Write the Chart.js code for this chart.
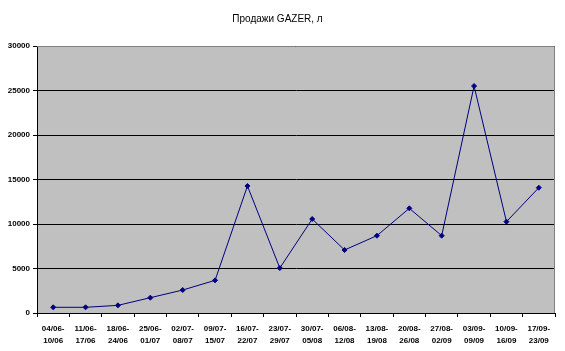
<!DOCTYPE html>
<html>
<head>
<meta charset="utf-8">
<script src="https://cdn.jsdelivr.net/npm/chart.js@4"></script>
<style>
    html, body { margin: 0; padding: 0; background: #fff; }
    #wrap { width: 565px; height: 351px; }
</style>
</head>
<body>
<div id="wrap"><canvas id="salesChart" width="565" height="351"></canvas></div>
<script>
const weeks = [
    ['04/06-', '10/06'], ['11/06-', '17/06'], ['18/06-', '24/06'], ['25/06-', '01/07'],
    ['02/07-', '08/07'], ['09/07-', '15/07'], ['16/07-', '22/07'], ['23/07-', '29/07'],
    ['30/07-', '05/08'], ['06/08-', '12/08'], ['13/08-', '19/08'], ['20/08-', '26/08'],
    ['27/08-', '02/09'], ['03/09-', '09/09'], ['10/09-', '16/09'], ['17/09-', '23/09']
];
const salesLitres = [640, 640, 860, 1720, 2580, 3670, 14270, 5050,
    10560, 7080, 8690, 11760, 8690, 25500, 10260, 14080];
const yTicks = [0, 5000, 10000, 15000, 20000, 25000, 30000];

// grey plot background + border like the old Excel chart
const plotBackground = {
    id: 'plotBackground',
    beforeDraw(chart) {
        const { ctx, chartArea: a } = chart;
        ctx.save();
        ctx.fillStyle = '#c0c0c0';
        ctx.fillRect(a.left, a.top, a.right - a.left, a.bottom - a.top);
        ctx.restore();
    },
    afterDatasetsDraw(chart) {
        const { ctx, chartArea: a } = chart;
        ctx.save();
        ctx.strokeStyle = '#808080';
        ctx.lineWidth = 1;
        ctx.beginPath();
        ctx.moveTo(a.left, a.top + 0.5);
        ctx.lineTo(a.right - 0.5, a.top + 0.5);
        ctx.lineTo(a.right - 0.5, a.bottom);
        ctx.stroke();
        ctx.restore();
    }
};

new Chart(document.getElementById('salesChart').getContext('2d'), {
    type: 'line',
    data: {
        labels: weeks,
        datasets: [{
            label: 'Продажи',
            data: salesLitres,
            borderColor: '#000080',
            backgroundColor: '#000080',
            borderWidth: 1,
            pointStyle: 'rectRot',
            pointRadius: 2.5,
            pointBorderWidth: 1,
            tension: 0
        }]
    },
    options: {
        responsive: false,
        animation: false,
        layout: { padding: { left: 0, right: 10, top: 0, bottom: 0 } },
        plugins: {
            legend: { display: false },
            tooltip: { enabled: false },
            title: {
                display: true,
                text: 'Продажи GAZER, л',
                color: '#000',
                font: { family: 'Arial, "Liberation Sans"', size: 10, weight: 'normal' },
                padding: { top: 13, bottom: 21 }
            }
        },
        scales: {
            x: {
                offset: true,
                grid: {
                    offset: true,
                    drawOnChartArea: false,
                    drawTicks: true,
                    tickLength: 4,
                    color: '#000'
                },
                border: { color: '#000', width: 1 },
                ticks: {
                    autoSkip: false,
                    maxRotation: 0,
                    color: '#000',
                    padding: 5,
                    font: { family: 'Arial, "Liberation Sans"', size: 8, weight: 'bold', lineHeight: 1.6 }
                },
                afterFit(scale) { scale.height = 38; }
            },
            y: {
                min: 0,
                max: 30000,
                afterBuildTicks(scale) { scale.ticks = yTicks.map(v => ({ value: v })); },
                grid: {
                    color: '#000',
                    lineWidth: 1,
                    drawTicks: true,
                    tickLength: 4
                },
                border: { color: '#000', width: 1 },
                ticks: {
                    color: '#000',
                    padding: 3,
                    callback: v => String(v),
                    font: { family: 'Arial, "Liberation Sans"', size: 8, weight: 'bold' }
                },
                afterFit(scale) { scale.width = 37; }
            }
        }
    },
    plugins: [plotBackground]
});
</script>
</body>
</html>
